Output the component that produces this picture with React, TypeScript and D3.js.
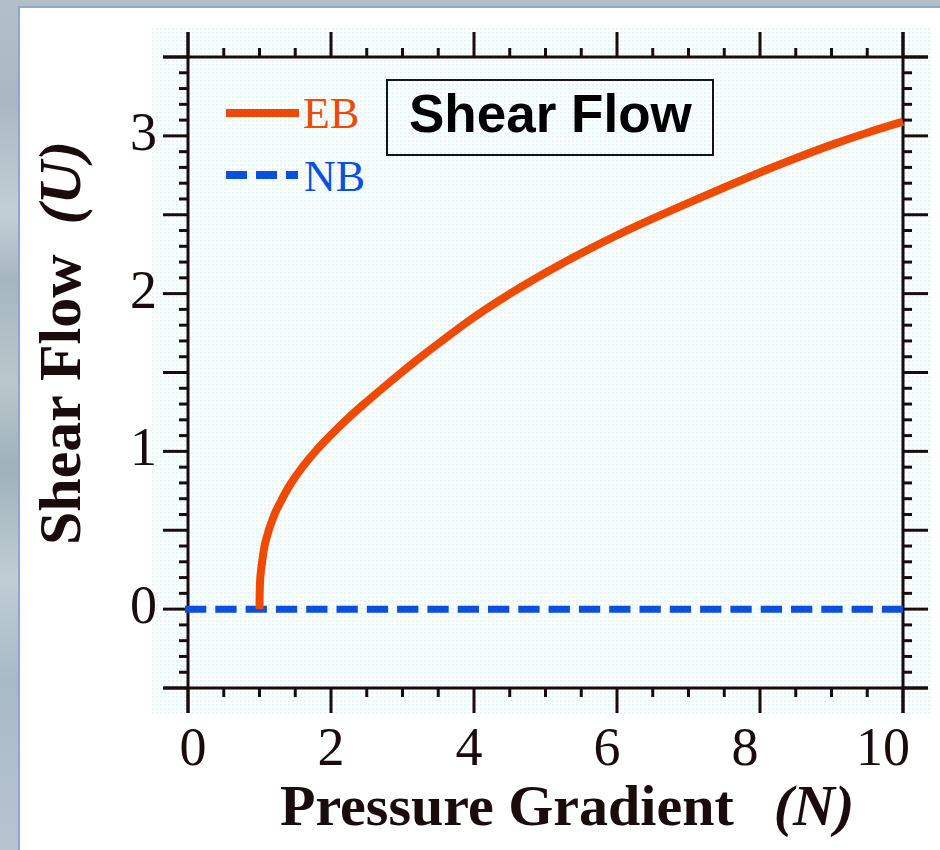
import React from "react";
import * as d3 from "d3";

// ---- Data ----
const ebN = [1.0, 1.01, 1.04, 1.08, 1.2, 1.3, 1.43, 1.6, 1.8, 2.0, 2.25, 2.5, 2.8, 3.2, 3.5, 4.0, 4.5, 5.0, 5.5, 6.0, 6.5, 7.0, 7.5, 8.0, 8.5, 9.0, 9.5, 10.0];
const ebU = [0.0, 0.19, 0.31, 0.42, 0.59, 0.685, 0.79, 0.9, 1.01, 1.105, 1.215, 1.315, 1.43, 1.578, 1.683, 1.85, 1.998, 2.132, 2.256, 2.37, 2.475, 2.575, 2.673, 2.768, 2.858, 2.943, 3.02, 3.09];
const nbN = [0, 10];
const nbU = [0, 0];

const xMajorTicks = [0, 2, 4, 6, 8, 10];
const xTickLabels = ["0", "2", "4", "6", "8", "10"];
const yLabelTicks = [0, 1, 2, 3];
const yTickLabels = ["0", "1", "2", "3"];

const seriesNames = ["EB", "NB"];
const xTitle = "Pressure Gradient";
const xTitleVar = "(N)";
const yTitle = "Shear Flow";
const yTitleVar = "(U)";
const boxTitle = "Shear Flow";

// ---- Styling ----
const AX = "#1a0c0c";
const ORANGE = "#ef4a00";
const BLUE = "#0a50e0";
const SERIF = "'Liberation Serif', 'Times New Roman', serif";
const SANS = "'Liberation Sans', Arial, sans-serif";

export default function App() {
  const x = d3.scaleLinear().domain([0, 10]).range([188, 903]);
  const y = d3.scaleLinear().domain([-0.5, 3.5]).range([688, 57]);
  const xLabel = d3.scaleLinear().domain([0, 10]).range([193, 883]);

  const MAJ = 25;
  const MIN = 9;

  const xMinor = d3.range(0, 10.001, 0.5).filter((v) => !xMajorTicks.some((m) => Math.abs(m - v) < 1e-6));
  const yMajor = d3.range(-0.5, 3.5001, 0.5);
  const yMinor = d3.range(-0.5, 3.5001, 0.1).filter((v) => !yMajor.some((m) => Math.abs(m - v) < 1e-6));

  const line = d3
    .line<number>()
    .x((_, i) => x(ebN[i]))
    .y((_, i) => y(ebU[i]))
    .curve(d3.curveCatmullRom.alpha(0.5));
  const ebPath = line(ebN) || "";

  const x0 = x(0), x1 = x(10), yB = y(-0.5), yT = y(3.5);

  return (
    <svg width={940} height={850} style={{ position: "absolute", left: 0, top: 0 }} xmlns="http://www.w3.org/2000/svg">
      <defs>
        <linearGradient id="bgGrad" x1="0" y1="0" x2="0" y2="1">
          <stop offset="0" stopColor="#b3bfc8" />
          <stop offset="0.12" stopColor="#a9b8c2" />
          <stop offset="0.25" stopColor="#c3cfd6" />
          <stop offset="0.33" stopColor="#a6b6bf" />
          <stop offset="0.45" stopColor="#b9c8cc" />
          <stop offset="0.55" stopColor="#9fb2ba" />
          <stop offset="0.68" stopColor="#c0ced4" />
          <stop offset="0.8" stopColor="#a8bac6" />
          <stop offset="1" stopColor="#b6c4d0" />
        </linearGradient>
        <pattern id="dots" width="4" height="4" patternUnits="userSpaceOnUse">
          <rect width="4" height="4" fill="#ffffff" />
          <rect x="0" y="0" width="2" height="2" fill="#e2f7fa" />
        </pattern>
      </defs>

      {/* slide background */}
      <rect x={0} y={0} width={940} height={850} fill="url(#bgGrad)" />
      <rect x={19} y={7} width={1000} height={1000} fill="#ffffff" stroke="#8da6d6" strokeWidth={2} />

      {/* dotted plot background */}
      <rect x={152} y={28} width={780} height={688} fill="url(#dots)" />

      {/* frame axes */}
      <g stroke={AX} strokeWidth={3} strokeLinecap="butt">
        <line x1={x0 - MAJ} x2={x1 + MAJ} y1={yB} y2={yB} />
        <line x1={x0 - MAJ} x2={x1 + MAJ} y1={yT} y2={yT} />
        <line x1={x0} x2={x0} y1={yT - MAJ} y2={yB + MAJ} />
        <line x1={x1} x2={x1} y1={yT - MAJ} y2={yB + MAJ} />

        {xMajorTicks.map((v) => (
          <g key={"xM" + v}>
            <line x1={x(v)} x2={x(v)} y1={yB} y2={yB + MAJ} />
            <line x1={x(v)} x2={x(v)} y1={yT} y2={yT - MAJ} />
          </g>
        ))}
        {xMinor.map((v) => (
          <g key={"xm" + v}>
            <line x1={x(v)} x2={x(v)} y1={yB} y2={yB + MIN} />
            <line x1={x(v)} x2={x(v)} y1={yT} y2={yT - MIN} />
          </g>
        ))}
        {yMajor.map((v) => (
          <g key={"yM" + v}>
            <line x1={x0} x2={x0 - MAJ} y1={y(v)} y2={y(v)} />
            <line x1={x1} x2={x1 + MAJ} y1={y(v)} y2={y(v)} />
          </g>
        ))}
        {yMinor.map((v) => (
          <g key={"ym" + v.toFixed(2)}>
            <line x1={x0} x2={x0 - MIN} y1={y(v)} y2={y(v)} />
            <line x1={x1} x2={x1 + MIN} y1={y(v)} y2={y(v)} />
          </g>
        ))}
      </g>

      {/* tick labels */}
      <g fontFamily={SERIF} fontSize={54} fill={AX}>
        {xMajorTicks.map((v, i) => (
          <text key={"xl" + v} x={xLabel(v)} y={765} textAnchor="middle">
            {xTickLabels[i]}
          </text>
        ))}
        {yLabelTicks.map((v, i) => (
          <text key={"yl" + v} x={157} y={y(v) + 14} textAnchor="end">
            {yTickLabels[i]}
          </text>
        ))}
      </g>

      {/* axis titles */}
      <text x={280} y={825} fontFamily={SERIF} fontSize={58} fontWeight="bold" fill={AX}>
        {xTitle}
        <tspan dx={40} fontStyle="italic">{xTitleVar}</tspan>
      </text>
      <text transform="translate(80,545) rotate(-90)" x={0} y={0} fontFamily={SERIF} fontSize={60} fontWeight="bold" fill={AX}>
        {yTitle}
        <tspan dx={30} fontStyle="italic">{yTitleVar}</tspan>
      </text>

      {/* NB series */}
      <line
        x1={x(nbN[0]) - 3}
        x2={x(nbN[1])}
        y1={y(nbU[0])}
        y2={y(nbU[1])}
        stroke={BLUE}
        strokeWidth={7}
        strokeDasharray="21.3 9"
      />

      {/* EB series */}
      <path d={ebPath} fill="none" stroke={ORANGE} strokeWidth={8} strokeLinejoin="round" />

      {/* legend */}
      <line x1={226} x2={299} y1={113} y2={113} stroke={ORANGE} strokeWidth={8} />
      <text x={303} y={128} fontFamily={SERIF} fontSize={44} fill={ORANGE}>
        {seriesNames[0]}
      </text>
      <line x1={226} x2={298} y1={175} y2={175} stroke={BLUE} strokeWidth={8} strokeDasharray="21 9" />
      <text x={304} y={191} fontFamily={SERIF} fontSize={44} fill={BLUE}>
        {seriesNames[1]}
      </text>

      {/* title box */}
      <rect x={387} y={80} width={326} height={75} fill="none" stroke="#151515" strokeWidth={2} />
      <text x={409} y={132} fontFamily={SANS} fontSize={53} fontWeight="bold" fill="#000">
        {boxTitle}
      </text>
    </svg>
  );
}
